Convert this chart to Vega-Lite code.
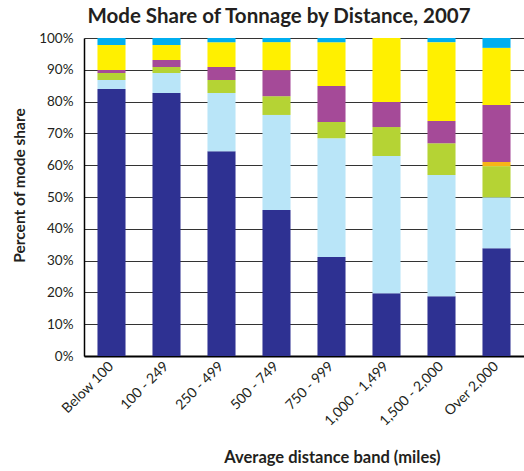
{
  "$schema": "https://vega.github.io/schema/vega-lite/v6.json",
  "autosize": {"type": "none"},
  "width": 440,
  "height": 318,
  "padding": {"left": 84, "top": 38, "right": 0, "bottom": 115},
  "background": "white",
  "title": {
    "text": "Mode Share of Tonnage by Distance, 2007",
    "font": "Lato",
    "fontSize": 20.5,
    "fontWeight": "bold",
    "color": "#231F20",
    "anchor": "middle",
    "dx": -25,
    "offset": 4
  },
  "data": {
    "values": [
      {"band": "Below 100", "mode": "Truck", "o": 1, "share": 84.0},
      {"band": "Below 100", "mode": "Rail", "o": 2, "share": 2.8},
      {"band": "Below 100", "mode": "Water", "o": 3, "share": 2.2},
      {"band": "Below 100", "mode": "Air", "o": 4, "share": 0.0},
      {"band": "Below 100", "mode": "Multiple modes", "o": 5, "share": 0.9},
      {"band": "Below 100", "mode": "Pipeline", "o": 6, "share": 7.9},
      {"band": "Below 100", "mode": "Other", "o": 7, "share": 2.2},

      {"band": "100 - 249", "mode": "Truck", "o": 1, "share": 82.7},
      {"band": "100 - 249", "mode": "Rail", "o": 2, "share": 6.3},
      {"band": "100 - 249", "mode": "Water", "o": 3, "share": 1.9},
      {"band": "100 - 249", "mode": "Air", "o": 4, "share": 0.0},
      {"band": "100 - 249", "mode": "Multiple modes", "o": 5, "share": 2.2},
      {"band": "100 - 249", "mode": "Pipeline", "o": 6, "share": 4.7},
      {"band": "100 - 249", "mode": "Other", "o": 7, "share": 2.2},

      {"band": "250 - 499", "mode": "Truck", "o": 1, "share": 64.4},
      {"band": "250 - 499", "mode": "Rail", "o": 2, "share": 18.3},
      {"band": "250 - 499", "mode": "Water", "o": 3, "share": 4.1},
      {"band": "250 - 499", "mode": "Air", "o": 4, "share": 0.0},
      {"band": "250 - 499", "mode": "Multiple modes", "o": 5, "share": 4.1},
      {"band": "250 - 499", "mode": "Pipeline", "o": 6, "share": 7.8},
      {"band": "250 - 499", "mode": "Other", "o": 7, "share": 1.3},

      {"band": "500 - 749", "mode": "Truck", "o": 1, "share": 45.9},
      {"band": "500 - 749", "mode": "Rail", "o": 2, "share": 29.9},
      {"band": "500 - 749", "mode": "Water", "o": 3, "share": 5.9},
      {"band": "500 - 749", "mode": "Air", "o": 4, "share": 0.0},
      {"band": "500 - 749", "mode": "Multiple modes", "o": 5, "share": 8.2},
      {"band": "500 - 749", "mode": "Pipeline", "o": 6, "share": 8.8},
      {"band": "500 - 749", "mode": "Other", "o": 7, "share": 1.3},

      {"band": "750 - 999", "mode": "Truck", "o": 1, "share": 31.1},
      {"band": "750 - 999", "mode": "Rail", "o": 2, "share": 37.4},
      {"band": "750 - 999", "mode": "Water", "o": 3, "share": 5.1},
      {"band": "750 - 999", "mode": "Air", "o": 4, "share": 0.0},
      {"band": "750 - 999", "mode": "Multiple modes", "o": 5, "share": 11.3},
      {"band": "750 - 999", "mode": "Pipeline", "o": 6, "share": 13.8},
      {"band": "750 - 999", "mode": "Other", "o": 7, "share": 1.3},

      {"band": "1,000 - 1,499", "mode": "Truck", "o": 1, "share": 19.7},
      {"band": "1,000 - 1,499", "mode": "Rail", "o": 2, "share": 43.2},
      {"band": "1,000 - 1,499", "mode": "Water", "o": 3, "share": 9.1},
      {"band": "1,000 - 1,499", "mode": "Air", "o": 4, "share": 0.0},
      {"band": "1,000 - 1,499", "mode": "Multiple modes", "o": 5, "share": 7.9},
      {"band": "1,000 - 1,499", "mode": "Pipeline", "o": 6, "share": 20.1},
      {"band": "1,000 - 1,499", "mode": "Other", "o": 7, "share": 0.0},

      {"band": "1,500 - 2,000", "mode": "Truck", "o": 1, "share": 18.8},
      {"band": "1,500 - 2,000", "mode": "Rail", "o": 2, "share": 38.1},
      {"band": "1,500 - 2,000", "mode": "Water", "o": 3, "share": 10.0},
      {"band": "1,500 - 2,000", "mode": "Air", "o": 4, "share": 0.0},
      {"band": "1,500 - 2,000", "mode": "Multiple modes", "o": 5, "share": 7.0},
      {"band": "1,500 - 2,000", "mode": "Pipeline", "o": 6, "share": 24.8},
      {"band": "1,500 - 2,000", "mode": "Other", "o": 7, "share": 1.3},

      {"band": "Over 2,000", "mode": "Truck", "o": 1, "share": 33.9},
      {"band": "Over 2,000", "mode": "Rail", "o": 2, "share": 16.0},
      {"band": "Over 2,000", "mode": "Water", "o": 3, "share": 9.8},
      {"band": "Over 2,000", "mode": "Air", "o": 4, "share": 1.3},
      {"band": "Over 2,000", "mode": "Multiple modes", "o": 5, "share": 17.9},
      {"band": "Over 2,000", "mode": "Pipeline", "o": 6, "share": 18.0},
      {"band": "Over 2,000", "mode": "Other", "o": 7, "share": 3.1}
    ]
  },
  "mark": {"type": "bar"},
  "encoding": {
    "x": {
      "field": "band",
      "type": "nominal",
      "sort": null,
      "scale": {"paddingInner": 0.49, "paddingOuter": 0.245},
      "axis": {
        "title": "Average distance band (miles)",
        "titleFont": "Lato",
        "titleFontSize": 16.5,
        "titleFontWeight": "bold",
        "titleColor": "#231F20",
        "titleX": 248,
        "titleY": 101,
        "titleBaseline": "middle",
        "labelAngle": -45,
        "labelAlign": "right",
        "labelBaseline": "middle",
        "labelFont": "Lato",
        "labelFontSize": 14,
        "labelColor": "#231F20",
        "labelPadding": 8,
        "ticks": false,
        "domainColor": "#000000",
        "domainWidth": 2,
        "grid": false
      }
    },
    "y": {
      "field": "share",
      "type": "quantitative",
      "stack": "zero",
      "scale": {"domain": [0, 100], "nice": false},
      "axis": {
        "title": "Percent of mode share",
        "titleFont": "Lato",
        "titleFontSize": 15.5,
        "titleFontWeight": "bold",
        "titleColor": "#231F20",
        "titleAngle": -90,
        "titleX": -65,
        "titleY": 147,
        "titleAlign": "center",
        "titleBaseline": "middle",
        "values": [0, 10, 20, 30, 40, 50, 60, 70, 80, 90, 100],
        "labelExpr": "datum.value + '%'",
        "labelFont": "Lato",
        "labelFontSize": 13.5,
        "labelColor": "#231F20",
        "labelPadding": 11,
        "ticks": false,
        "domainColor": "#000000",
        "domainWidth": 1.5,
        "grid": true,
        "gridColor": "#333333",
        "gridWidth": 1.2
      }
    },
    "color": {
      "field": "mode",
      "type": "nominal",
      "scale": {
        "domain": ["Truck", "Rail", "Water", "Air", "Multiple modes", "Pipeline", "Other"],
        "range": ["#2E3192", "#B9E5F8", "#B5D334", "#F7B418", "#A54A98", "#FFF000", "#00AEEF"]
      },
      "legend": null
    },
    "order": {"field": "o", "type": "quantitative", "sort": "ascending"}
  },
  "config": {
    "view": {"stroke": null}
  }
}
